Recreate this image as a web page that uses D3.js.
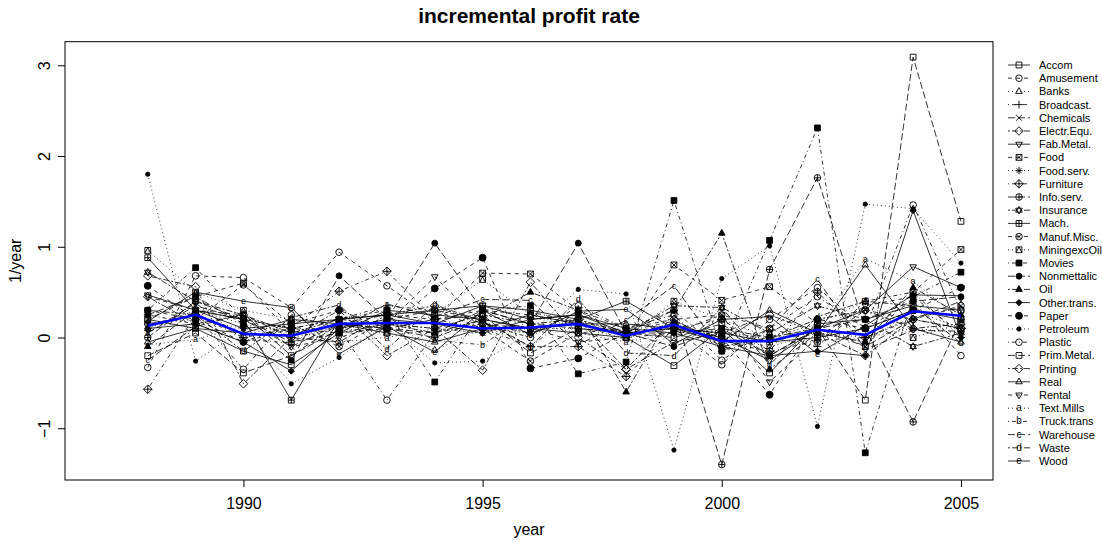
<!DOCTYPE html>
<html><head><meta charset="utf-8">
<script src="https://cdn.jsdelivr.net/npm/d3@7"></script>
<style>
body{margin:0;background:#fff;}
svg{display:block;font-family:"Liberation Sans",Arial,Helvetica,sans-serif;}
</style></head>
<body><svg id="chart" width="1102" height="542"></svg>
<script>
const years = [1988,1989,1990,1991,1992,1993,1994,1995,1996,1997,1998,1999,2000,2001,2002,2003,2004,2005];
const seriesNames = ["Accom","Amusement","Banks","Broadcast.","Chemicals","Electr.Equ.","Fab.Metal.","Food","Food.serv.","Furniture","Info.serv.","Insurance","Mach.","Manuf.Misc.","MiningexcOil","Movies","Nonmettalic","Oil","Other.trans.","Paper","Petroleum","Plastic","Prim.Metal.","Printing","Real","Rental","Text.Mills","Truck.trans","Warehouse","Waste","Wood"];

const accom       = [0.20,0.10,-0.15,-0.30,0.05,0.30,0.25,0.20,0.10,0.05,0.00,-0.31,0.10,-0.39,0.15,0.20,0.35,0.30];
const amusement   = [-0.33,0.68,0.66,0.33,0.94,0.57,0.20,0.30,0.25,0.15,0.05,0.10,-0.30,0.20,0.55,0.10,0.40,-0.20];
const banks       = [0.10,0.30,0.15,0.05,0.10,0.20,-0.14,0.10,0.05,0.20,0.02,0.15,0.00,-0.10,0.05,-0.05,0.30,0.10];
const broadcast   = [0.25,0.15,-0.05,0.10,0.20,0.35,0.30,0.20,-0.10,0.30,0.10,0.30,-0.15,0.00,-0.10,0.40,0.50,0.00];
const chemicals   = [0.05,0.35,0.20,-0.10,0.15,0.10,0.05,0.30,0.15,0.10,0.05,0.05,0.10,-0.20,0.10,-0.10,0.20,0.40];
const electrEqu   = [0.68,0.56,-0.51,0.00,0.30,-0.20,0.10,-0.36,0.61,0.00,-0.35,0.20,-0.10,0.00,0.20,0.30,0.10,0.15];
const fabMetal    = [0.47,0.30,0.10,0.15,0.20,0.25,0.30,0.35,0.20,0.25,0.05,0.10,0.00,-0.25,0.10,0.30,0.78,0.55];
const food        = [0.20,0.45,0.60,0.05,0.15,0.25,0.20,0.71,0.70,0.30,0.00,0.80,0.41,0.56,0.15,-0.10,0.50,0.97];
const foodServ    = [0.15,0.20,0.10,0.00,0.10,0.15,0.10,0.05,0.10,0.10,0.05,0.10,0.05,0.00,0.05,0.00,0.10,0.05];
const furniture   = [-0.57,0.25,0.00,0.10,0.51,0.73,0.20,0.10,-0.10,-0.10,-0.43,0.10,0.20,-0.15,0.50,0.00,0.20,0.10];
const infoServ    = [0.00,0.40,0.20,-0.05,0.05,0.10,0.00,0.20,0.10,0.15,0.05,0.30,-1.40,0.75,1.76,0.10,-0.93,0.20];
const insurance   = [0.72,0.40,0.25,0.05,0.20,0.15,0.10,0.25,0.15,0.20,0.05,0.35,0.33,0.05,0.35,0.20,-0.10,0.05];
const mach        = [0.88,0.30,0.20,-0.69,0.20,0.25,0.15,0.35,0.30,0.20,0.40,0.10,0.05,-0.05,0.00,0.10,0.30,0.20];
const manufMisc   = [0.30,0.20,0.58,0.15,-0.10,0.20,0.30,0.10,-0.26,0.05,0.10,0.20,0.25,0.10,-0.05,0.30,0.20,0.35];
const miningexcOil= [0.96,0.50,0.30,0.20,0.10,0.05,0.25,0.64,0.25,0.10,0.00,0.40,0.20,0.00,0.15,0.40,0.00,0.15];
const movies      = [0.30,0.77,0.20,0.10,0.20,0.30,-0.49,0.30,0.35,-0.40,-0.27,1.51,-0.15,1.07,2.31,-1.27,0.45,0.72];
const nonmettalic = [0.25,0.45,0.15,-0.25,0.68,0.20,1.04,0.30,0.15,1.04,0.05,-0.10,0.10,0.00,0.10,0.20,0.40,0.45];
const oil         = [-0.10,0.30,0.20,0.10,0.05,0.15,0.05,0.20,0.50,0.30,-0.60,0.30,1.15,-0.35,0.05,-0.05,0.55,0.25];
const otherTrans  = [0.10,0.15,-0.05,-0.37,0.10,0.20,0.15,0.05,0.20,0.25,0.10,0.05,-0.10,-0.20,-0.15,-0.20,1.40,0.00];
const paper       = [0.57,0.20,-0.05,0.15,0.30,0.10,0.54,0.88,-0.34,-0.23,0.05,0.15,0.00,-0.63,0.20,0.10,0.30,0.55];
const petroleum   = [1.80,-0.26,0.10,-0.51,-0.22,0.15,-0.28,-0.26,0.05,0.53,0.48,-1.24,0.65,1.01,-0.98,1.47,1.42,0.82];
const plastic     = [0.15,0.25,-0.35,0.25,0.10,-0.69,0.05,0.15,0.00,0.35,0.10,0.25,-0.25,0.10,0.45,0.10,1.46,0.30];
const primMetal   = [-0.20,0.05,-0.39,-0.20,0.15,0.10,0.20,0.25,-0.17,0.10,0.05,0.00,0.15,-0.20,0.10,-0.69,3.09,1.28];
const printing    = [0.45,0.15,0.25,0.00,-0.05,0.25,0.35,0.15,0.05,0.20,-0.35,-0.05,0.05,0.25,0.05,-0.20,0.20,0.10];
const real        = [-0.05,0.10,0.05,0.20,0.15,0.05,-0.05,0.10,0.25,0.15,0.15,0.10,-0.05,0.30,0.05,0.80,0.10,-0.05];
const rental      = [0.45,0.30,0.25,-0.10,0.00,0.15,0.67,0.15,0.10,-0.05,0.00,0.05,0.25,-0.49,0.00,0.35,0.45,0.05];
const textMills   = [-0.08,-0.02,0.12,0.08,-0.05,0.00,0.10,0.05,0.16,0.05,-0.05,0.05,0.08,-0.03,0.10,0.87,0.62,0.20];
const truckTrans  = [0.05,0.38,-0.02,-0.06,0.22,0.24,-0.03,-0.08,0.28,0.17,0.07,0.18,-0.03,-0.16,-0.03,0.00,0.22,0.33];
const warehouse   = [-0.25,0.12,0.26,-0.20,0.09,0.37,0.23,0.42,0.41,-0.08,0.19,0.57,-0.15,0.10,0.64,-0.13,0.08,0.07];
const waste       = [0.30,0.25,-0.15,0.22,0.36,-0.13,0.36,0.18,-0.10,0.42,-0.17,-0.20,0.33,-0.30,0.23,0.40,0.35,-0.06];
const wood        = [0.18,0.50,0.40,0.33,-0.18,0.12,-0.16,0.30,0.03,0.29,0.31,-0.07,0.20,0.23,-0.18,0.13,0.47,0.46];

const average     = [0.13,0.25,0.04,0.02,0.15,0.16,0.16,0.10,0.11,0.15,0.02,0.14,-0.04,-0.04,0.085,0.03,0.29,0.24];

const seriesValues = [accom,amusement,banks,broadcast,chemicals,electrEqu,fabMetal,food,foodServ,furniture,infoServ,insurance,mach,manufMisc,miningexcOil,movies,nonmettalic,oil,otherTrans,paper,petroleum,plastic,primMetal,printing,real,rental,textMills,truckTrans,warehouse,waste,wood];
const yTicks = [-1,0,1,2,3];
const xTicks = [1990,1995,2000,2005];

const svg = d3.select("#chart");
const L=65,R=993,T=41.7,B=480;
const x = d3.scaleLinear().domain([1986.27,2005.67]).range([L,R]);
const y = d3.scaleLinear().domain([-1.57,3.26]).range([B,T]);

const dashes = ["none","4,4","1,3","1,3,4,3","7,3","2,2,6,2"];
const letters = ["a","b","c","d","e"];

function pchPath(p, cx, cy){
  const r=3.3, s=2.9;
  const sq=(h)=>`M${cx-h},${cy-h}h${2*h}v${2*h}h${-2*h}Z`;
  const circ=(rr)=>`M${cx-rr},${cy}a${rr},${rr} 0 1,0 ${2*rr},0a${rr},${rr} 0 1,0 ${-2*rr},0Z`;
  const triU=(h)=>`M${cx},${cy-h*1.15}L${cx+h},${cy+h*0.6}L${cx-h},${cy+h*0.6}Z`;
  const triD=(h)=>`M${cx},${cy+h*1.15}L${cx+h},${cy-h*0.6}L${cx-h},${cy-h*0.6}Z`;
  const dia=(h)=>`M${cx},${cy-h}L${cx+h},${cy}L${cx},${cy+h}L${cx-h},${cy}Z`;
  const plus=(h)=>`M${cx-h},${cy}H${cx+h}M${cx},${cy-h}V${cy+h}`;
  const cross=(h)=>`M${cx-h},${cy-h}L${cx+h},${cy+h}M${cx-h},${cy+h}L${cx+h},${cy-h}`;
  switch(p){
    case 0: case 22: return {d:sq(s)};
    case 1: case 21: return {d:circ(r)};
    case 2: case 24: return {d:triU(r)};
    case 3: return {d:plus(r*1.2)};
    case 4: return {d:cross(s)};
    case 5: case 23: return {d:dia(r*1.3)};
    case 6: case 25: return {d:triD(r)};
    case 7: return {d:sq(s)+cross(s)};
    case 8: return {d:plus(r*1.1)+cross(s*0.85)};
    case 9: return {d:dia(r*1.3)+plus(r*1.3)};
    case 10: return {d:circ(r)+plus(r)};
    case 11: return {d:triU(r)+triD(r)};
    case 12: return {d:sq(s)+plus(s)};
    case 13: return {d:circ(r)+cross(r*0.7)};
    case 14: return {d:sq(s)+`M${cx-s},${cy+s}L${cx},${cy-s}L${cx+s},${cy+s}`};
    case 15: return {d:sq(s),fill:true};
    case 16: return {d:circ(r*0.9),fill:true};
    case 17: return {d:triU(r),fill:true};
    case 18: return {d:dia(r*0.95),fill:true};
    case 19: return {d:circ(r*1.05),fill:true};
    case 20: return {d:circ(r*0.65),fill:true};
  }
  return null;
}

function drawPoint(g, i, cx, cy, fs){
  if(i>=26){
    g.append("text").attr("x",cx).attr("y",cy+3).attr("text-anchor","middle")
      .attr("font-size",fs).attr("fill","#000").text(letters[i-26]);
    return;
  }
  const sh = pchPath(i, cx, cy);
  g.append("path").attr("d",sh.d).attr("fill",sh.fill?"#000":"none")
    .attr("stroke","#000").attr("stroke-width",0.9);
}

// box
svg.append("rect").attr("x",L).attr("y",T).attr("width",R-L).attr("height",B-T)
  .attr("fill","none").attr("stroke","#000").attr("stroke-width",1);

// axes
const xa = svg.append("g").attr("transform",`translate(0,${B})`)
  .call(d3.axisBottom(x).tickValues(xTicks).tickSize(7).tickPadding(11).tickFormat(d3.format("d")));
xa.select(".domain").remove();
xa.selectAll("text").attr("font-size",16).attr("font-family","Liberation Sans,Arial,sans-serif").attr("fill","#000");
xa.selectAll("line").attr("stroke","#000");

const ya = svg.append("g").attr("transform",`translate(${L},0)`)
  .call(d3.axisLeft(y).tickValues(yTicks).tickSize(7).tickFormat(d=>d<0?"\u2212"+Math.abs(d):String(d)));
ya.select(".domain").remove();
ya.selectAll("line").attr("stroke","#000");
ya.selectAll("text").attr("font-size",16).attr("font-family","Liberation Sans,Arial,sans-serif").attr("fill","#000")
  .attr("x",0).attr("dy",0).attr("text-anchor","middle")
  .attr("transform","translate(-15,0) rotate(-90)");

// labels
svg.append("text").attr("x",(L+R)/2).attr("y",23).attr("text-anchor","middle")
  .attr("font-size",21).attr("font-weight","bold").text("incremental profit rate");
svg.append("text").attr("x",(L+R)/2).attr("y",535).attr("text-anchor","middle")
  .attr("font-size",16).text("year");
svg.append("text").attr("transform",`translate(21,${(T+B)/2}) rotate(-90)`).attr("text-anchor","middle")
  .attr("font-size",16).text("1/year");

// series
const plot = svg.append("g");
const line = d3.line().x((d,j)=>x(years[j])).y(d=>y(d));
seriesValues.forEach((vals,i)=>{
  const g = plot.append("g");
  g.append("path").datum(vals).attr("d",line).attr("fill","none").attr("stroke","#000")
    .attr("stroke-width",0.8).attr("stroke-dasharray",dashes[i%6]);
  vals.forEach((v,j)=>drawPoint(g,i,x(years[j]),y(v),9));
});

// average line
svg.append("path").datum(average).attr("d",line).attr("fill","none")
  .attr("stroke","#0000ff").attr("stroke-width",2.6);

// legend
const lg = svg.append("g");
seriesNames.forEach((n,i)=>{
  const yy = 65 + i*13.2;
  const g = lg.append("g");
  g.append("line").attr("x1",1008).attr("x2",1030).attr("y1",yy).attr("y2",yy)
    .attr("stroke","#000").attr("stroke-width",0.8).attr("stroke-dasharray",dashes[i%6]);
  drawPoint(g,i,1019,yy,10);
  g.append("text").attr("x",1039).attr("y",yy+4).attr("font-size",11).text(n);
});
</script></body></html>
